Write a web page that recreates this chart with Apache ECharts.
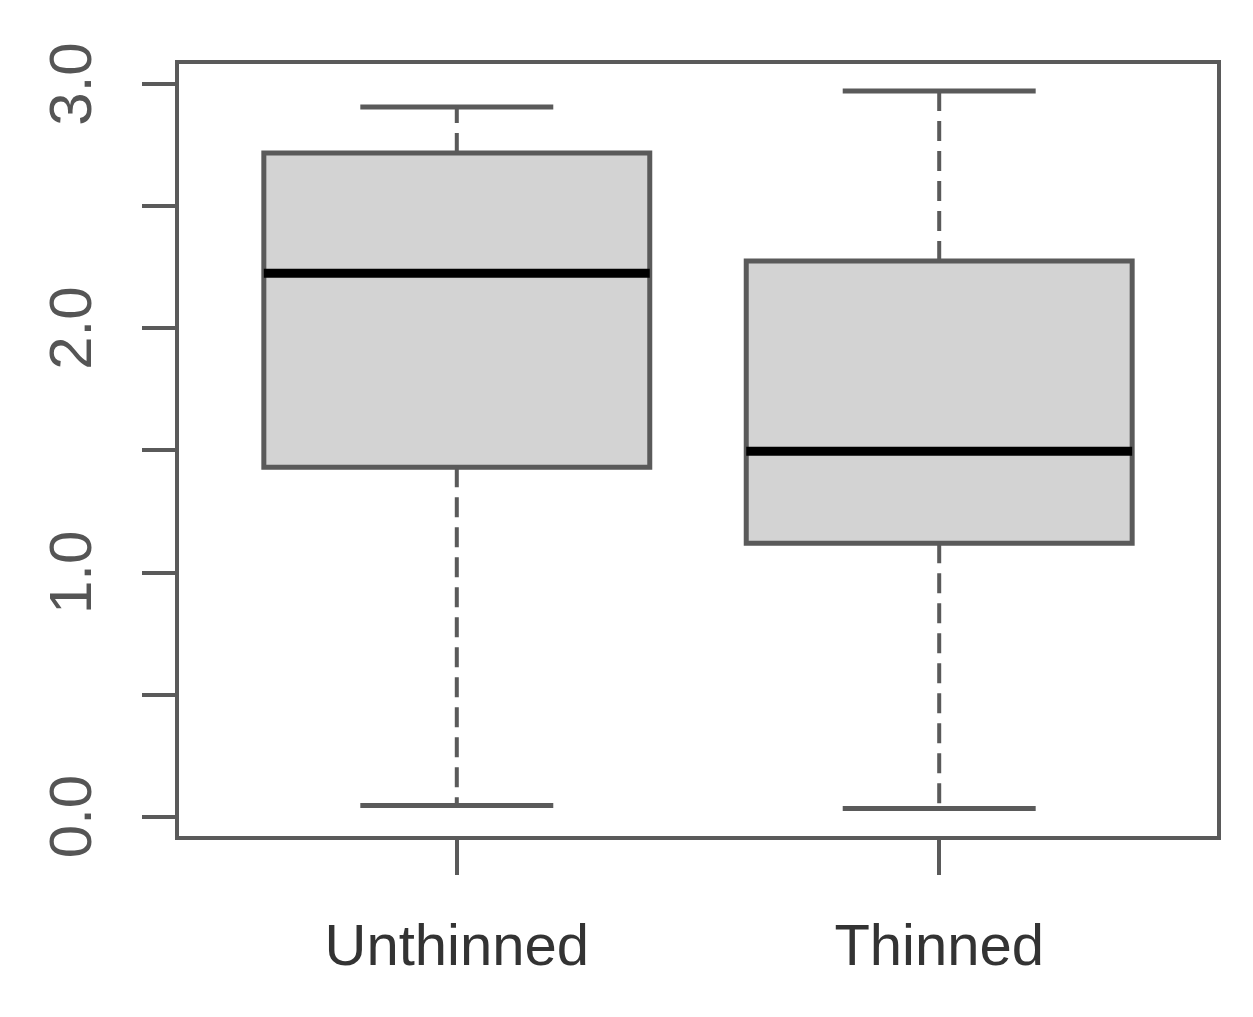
<!DOCTYPE html>
<html><head><meta charset="utf-8">
<script src="https://cdn.jsdelivr.net/npm/echarts@6/dist/echarts.min.js"></script>
<style>html,body{margin:0;padding:0;background:#fff}#c{width:1253px;height:1017px}</style>
</head><body><div id="c"></div>
<script>
const categories = ['Unthinned', 'Thinned'];
const positions = [1, 2];
const whiskerLow = [0.045, 0.033];
const q1 = [1.430, 1.119];
const medians = [2.225, 1.496];
const q3 = [2.717, 2.275];
const whiskerHigh = [2.906, 2.971];
const yTicks = [0, 0.5, 1, 1.5, 2, 2.5, 3];
const yLabelValues = [0, 1, 2, 3];

const boxData = positions.map((p, i) => [p, whiskerLow[i], q1[i], medians[i], q3[i], whiskerHigh[i]]);

const frameColor = '#5a5a5a';
const font = '"Liberation Sans", Arial, sans-serif';

const chart = echarts.init(document.getElementById('c'), null, {renderer: 'canvas'});
chart.setOption({
  backgroundColor: '#fff',
  animation: false,
  grid: {left: 177, right: 34, top: 62, bottom: 179, show: true, borderColor: frameColor, borderWidth: 4, backgroundColor: 'transparent'},
  xAxis: {
    type: 'value', min: 0.42, max: 2.58,
    splitLine: {show: false},
    axisLine: {show: false, onZero: false},
    axisTick: {show: true, customValues: positions, length: 37, lineStyle: {color: frameColor, width: 4}},
    axisLabel: {show: true, customValues: positions, margin: 82, fontSize: 58, fontFamily: font, color: '#333',
      formatter: v => categories[positions.indexOf(Math.round(v))] || ''}
  },
  yAxis: {
    type: 'value', min: -0.088, max: 3.09,
    splitLine: {show: false},
    axisLine: {show: false, onZero: false},
    axisTick: {show: true, customValues: yTicks, length: 35, lineStyle: {color: frameColor, width: 4}},
    axisLabel: {show: true, customValues: yLabelValues, rotate: 90, margin: 73, fontSize: 60, fontFamily: font, color: '#555',
      formatter: v => v.toFixed(1)}
  },
  series: [{
    type: 'custom',
    data: boxData,
    encode: {x: 0, y: [1, 2, 3, 4, 5]},
    renderItem: function (params, api) {
      const x = api.value(0);
      const lo = api.coord([x, api.value(1)]);
      const b1 = api.coord([x, api.value(2)]);
      const md = api.coord([x, api.value(3)]);
      const b3 = api.coord([x, api.value(4)]);
      const hi = api.coord([x, api.value(5)]);
      const bw = api.size([0.8, 0])[0];
      const cw = api.size([0.4, 0])[0];
      const cx = md[0];
      const dashStyle = {stroke: frameColor, lineWidth: 4, lineDash: [20, 10]};
      return {
        type: 'group',
        children: [
          {type: 'line', shape: {x1: cx, y1: b3[1], x2: cx, y2: hi[1]}, style: dashStyle},
          {type: 'line', shape: {x1: cx, y1: b1[1], x2: cx, y2: lo[1]}, style: dashStyle},
          {type: 'line', shape: {x1: cx - cw / 2, y1: hi[1], x2: cx + cw / 2, y2: hi[1]}, style: {stroke: frameColor, lineWidth: 5}},
          {type: 'line', shape: {x1: cx - cw / 2, y1: lo[1], x2: cx + cw / 2, y2: lo[1]}, style: {stroke: frameColor, lineWidth: 5}},
          {type: 'rect', shape: {x: cx - bw / 2, y: b3[1], width: bw, height: b1[1] - b3[1]}, style: {fill: '#d3d3d3', stroke: frameColor, lineWidth: 5}},
          {type: 'line', shape: {x1: cx - bw / 2, y1: md[1], x2: cx + bw / 2, y2: md[1]}, style: {stroke: '#000', lineWidth: 9}}
        ]
      };
    }
  }]
});
</script>
</body></html>
